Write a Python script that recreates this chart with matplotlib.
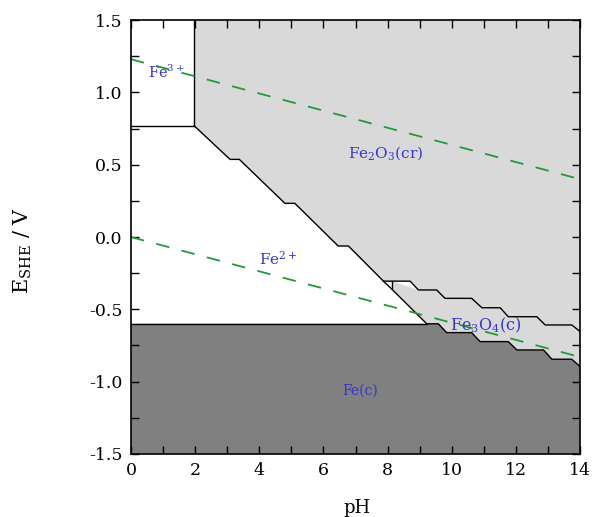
import numpy as np
import matplotlib
matplotlib.use("Agg")
import matplotlib.pyplot as plt
from matplotlib.ticker import MultipleLocator

plt.rcParams["font.family"] = "DejaVu Serif"
plt.rcParams["mathtext.fontset"] = "dejavuserif"

# boundary lines (pH, E / V)
fe3_fe2_ph = [0.0, 1.97]
fe3_fe2_e = [0.77, 0.77]

fe3_fe2o3_ph = [1.97, 1.97]
fe3_fe2o3_e = [0.77, 1.5]

fe2_fe2o3_ph = [1.97, 3.09, 3.38, 4.80, 5.11, 6.46, 6.78, 7.87]
fe2_fe2o3_e = [0.77, 0.537, 0.537, 0.233, 0.233, -0.062, -0.062, -0.305]

fe2_fe3o4_ph = [7.87, 8.13, 9.22]
fe2_fe3o4_e = [-0.305, -0.360, -0.60]

kink_ph = [8.13, 8.13]
kink_e = [-0.305, -0.360]

fe2o3_fe3o4_ph = [7.87, 8.70, 8.96, 9.53, 9.79, 10.62, 10.94, 11.51, 11.76, 12.65, 12.91, 13.74, 14.0]
fe2o3_fe3o4_e = [-0.305, -0.305, -0.366, -0.366, -0.424, -0.424, -0.489, -0.489,
                 -0.551, -0.551, -0.608, -0.608, -0.654]

fe3o4_fe_ph = [9.22, 9.58, 9.84, 10.62, 10.88, 11.76, 12.03, 12.86, 13.12, 13.74, 14.0]
fe3o4_fe_e = [-0.60, -0.60, -0.661, -0.661, -0.723, -0.723, -0.781, -0.781, -0.845, -0.845, -0.896]

fe2_fe_ph = [0.0, 9.22]
fe2_fe_e = [-0.60, -0.60]

# water stability lines
water_ph = [0.0, 14.0]
o2_e = [1.23, 0.40]
h2_e = [0.00, -0.83]

labels = ["Fe$^{3+}$", "Fe$_2$O$_3$(cr)", "Fe$^{2+}$", "Fe$_3$O$_4$(c)", "Fe(c)"]
label_ph = [1.1, 7.95, 4.6, 11.05, 7.15]
label_e = [1.14, 0.58, -0.15, -0.61, -1.06]
label_size = [10.5, 11, 11, 11.5, 10]

ph_min, ph_max = 0, 14
e_min, e_max = -1.5, 1.5

fig = plt.figure(figsize=(5.95, 5.17), dpi=100)
ax = fig.add_axes([0.220, 0.122, 0.755, 0.839])

light = "#d9d9d9"
dark = "#808080"

# Fe2O3 region
x = fe2_fe2o3_ph + fe2o3_fe3o4_ph + [ph_max, fe3_fe2o3_ph[0]]
y = fe2_fe2o3_e + fe2o3_fe3o4_e + [e_max, e_max]
ax.fill(x, y, color=light, lw=0)

# Fe3O4 region
x = [kink_ph[0]] + fe2o3_fe3o4_ph[2:] + fe3o4_fe_ph[::-1] + [kink_ph[1]]
y = [kink_e[0]] + fe2o3_fe3o4_e[2:] + fe3o4_fe_e[::-1] + [kink_e[1]]
ax.fill(x, y, color=light, lw=0)

# Fe(c) region
x = fe2_fe_ph + fe3o4_fe_ph + [ph_max, ph_min]
y = fe2_fe_e + fe3o4_fe_e + [e_min, e_min]
ax.fill(x, y, color=dark, lw=0)

for px, py in [(fe3_fe2_ph, fe3_fe2_e), (fe3_fe2o3_ph, fe3_fe2o3_e),
               (fe2_fe2o3_ph, fe2_fe2o3_e), (fe2_fe3o4_ph, fe2_fe3o4_e),
               (kink_ph, kink_e), (fe2o3_fe3o4_ph, fe2o3_fe3o4_e),
               (fe3o4_fe_ph, fe3o4_fe_e), (fe2_fe_ph, fe2_fe_e)]:
    ax.plot(px, py, color="black", lw=1.0)

green = "#22993a"
ax.plot(water_ph, o2_e, color=green, lw=1.3, dashes=(7.5, 7))
ax.plot(water_ph, h2_e, color=green, lw=1.3, dashes=(7.5, 7))

for t, lx, ly, fs in zip(labels, label_ph, label_e, label_size):
    ax.text(lx, ly, t, color="#3535cc", fontsize=fs, ha="center", va="center")

ax.set_xlim(ph_min, ph_max)
ax.set_ylim(e_min, e_max)
ax.xaxis.set_major_locator(MultipleLocator(2))
ax.xaxis.set_minor_locator(MultipleLocator(1))
ax.yaxis.set_major_locator(MultipleLocator(0.5))
ax.yaxis.set_minor_locator(MultipleLocator(0.25))
ax.yaxis.set_major_formatter(matplotlib.ticker.FormatStrFormatter("%.1f"))
ax.tick_params(which="both", direction="in", top=True, right=True,
               length=5.5, width=1, labelsize=12.5, pad=6)
for s in ax.spines.values():
    s.set_linewidth(1.2)

fig.text(0.6, 0.017, "pH", fontsize=13, ha="center", va="center")
fig.text(0.038, 1 - 250 / 517, r"E$_{\mathrm{SHE}}$ / V", fontsize=15,
         rotation=90, ha="center", va="center")

fig.savefig("out.png", dpi=100)
